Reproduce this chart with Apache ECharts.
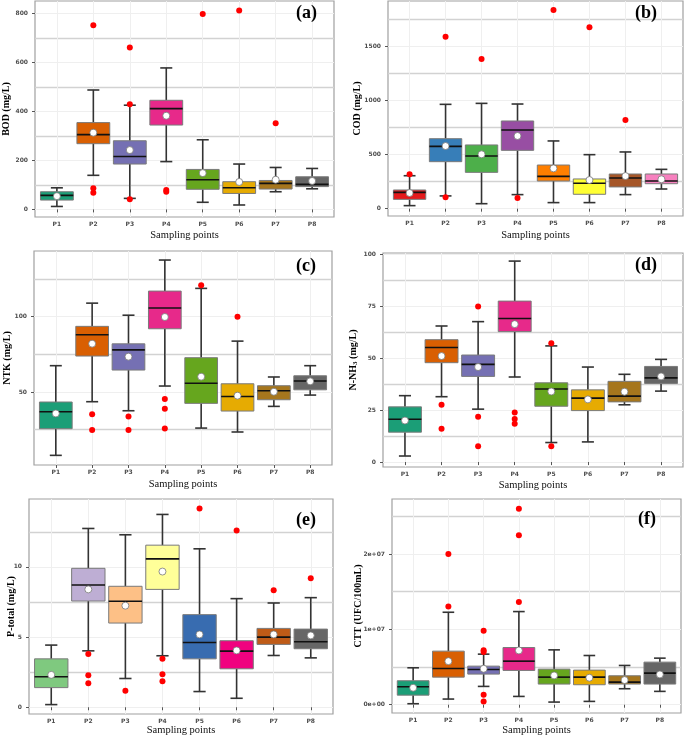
<!DOCTYPE html>
<html lang="en">
  <head>
    <meta charset="UTF-8" />
    <title>Sampling points boxplots</title>
    <script src="https://cdn.jsdelivr.net/npm/echarts@6/dist/echarts.min.js"></script>
    <style>
      html, body { margin: 0; padding: 0; background: #fff; }
      #main { width: 685px; height: 737px; }
    </style>
  </head>
  <body>
    <div id="main"></div>
    <script>
      var categories = ["P1", "P2", "P3", "P4", "P5", "P6", "P7", "P8"];
      var positions = [1, 2, 3, 4, 5, 6, 7, 8];

      // each box: [lower whisker, Q1, median, Q3, upper whisker]
      // outliers: [sampling point number, value]

      // (a) BOD
      var bodBoxes = [
        [12, 38, 57, 72, 88], [139, 268, 305, 354, 487], [45, 185, 216, 280, 425], [195, 344, 411, 445, 577],
        [29, 82, 121, 163, 284], [18, 65, 88, 113, 185], [72, 83, 106, 118, 171], [84, 93, 102, 133, 167]
      ];
      var bodMeans = [54, 313, 242, 382, 148, 112, 121, 116];
      var bodOutliers = [[2, 751], [2, 86], [2, 68], [3, 660], [3, 429], [3, 41], [4, 79], [4, 72], [5, 797], [6, 811], [7, 351]];
      var bodTicks = [0, 200, 400, 600, 800];
      var bodMinor = [100, 300, 500, 700];

      // (b) COD
      var codBoxes = [
        [28, 86, 151, 173, 305], [118, 435, 577, 648, 966], [46, 336, 488, 590, 975], [130, 540, 728, 812, 969],
        [56, 256, 299, 404, 627], [56, 133, 235, 275, 500], [130, 201, 284, 321, 525], [182, 231, 256, 321, 364]
      ];
      var codMeans = [145, 580, 503, 673, 373, 265, 302, 272];
      var codOutliers = [[1, 318], [2, 1593], [2, 105], [3, 1386], [4, 99], [5, 1840], [6, 1679], [7, 821]];
      var codTicks = [0, 500, 1000, 1500];
      var codMinor = [250, 750, 1250, 1750];

      // (c) NTK
      var ntkBoxes = [
        [8, 25.7, 36.9, 43.4, 67.5], [43.6, 73.9, 88, 93.6, 109], [37.6, 64.6, 78, 82, 101], [54, 92, 105.8, 117, 137.6],
        [26.1, 42.5, 55.8, 72.8, 118.8], [23.5, 37.4, 47.1, 55.5, 83.8], [40.5, 44.9, 50.9, 54.2, 60], [48, 51.5, 57.3, 60.8, 67.5]
      ];
      var ntkMeans = [35.8, 82.1, 73.5, 99.8, 60.2, 47.6, 50.2, 57.1];
      var ntkOutliers = [[2, 35.2], [2, 24.8], [3, 33.8], [3, 24.8], [4, 45.4], [4, 38.9], [4, 25.9], [5, 120.8], [6, 100]];
      var ntkTicks = [50, 100];
      var ntkMinor = [25, 75, 125];

      // (d) N-NH3
      var nh3Boxes = [
        [2.9, 14.4, 20.6, 26.6, 32], [31.5, 47.9, 55.2, 59, 65.6], [25.5, 41.3, 47.1, 51.6, 67.7], [41, 62.9, 69.2, 77.6, 96.9],
        [9.4, 26.9, 35.2, 38.2, 56], [9.7, 24.8, 30.8, 34.8, 45.8], [27.6, 29, 31.8, 38.9, 42.3], [34.2, 37.9, 40.6, 46.1, 49.5]
      ];
      var nh3Means = [20, 51.1, 45.8, 66.5, 34, 30.2, 33.9, 41.3];
      var nh3Outliers = [[2, 27.6], [2, 16], [3, 75], [3, 21.8], [3, 7.6], [4, 23.9], [4, 20.8], [4, 18.5], [5, 57.3], [5, 7.6]];
      var nh3Ticks = [0, 25, 50, 75, 100];
      var nh3Minor = [12.5, 37.5, 62.5, 87.5];

      // (e) P-total
      var ptBoxes = [
        [0.19, 1.4, 2.17, 3.45, 4.43], [4.02, 7.57, 8.71, 9.9, 12.74], [2.05, 6, 7.55, 8.62, 12.29], [3.67, 8.4, 10.57, 11.55, 13.74],
        [1.12, 3.45, 4.62, 6.6, 11.29], [0.64, 2.74, 4, 4.74, 7.74], [3.69, 4.48, 5, 5.62, 7.43], [3.52, 4.17, 4.67, 5.57, 7.81]
      ];
      var ptMeans = [2.31, 8.4, 7.24, 9.67, 5.19, 4.05, 5.19, 5.12];
      var ptOutliers = [[2, 3.79], [2, 2.29], [2, 1.71], [3, 1.17], [4, 3.45], [4, 2.36], [4, 1.86], [5, 14.17], [6, 12.6], [7, 8.33], [8, 9.19]];
      var ptTicks = [0, 5, 10];
      var ptMinor = [2.5, 7.5, 12.5];

      // (f) CTT
      var cttBoxes = [
        [1.3e5, 1.27e6, 2.38e6, 3.18e6, 4.9e6], [7.5e5, 3.66e6, 4.81e6, 7.11e6, 1.227e7],
        [2.43e6, 4.06e6, 4.68e6, 5.12e6, 6.71e6], [1.1e6, 4.55e6, 5.78e6, 7.59e6, 1.236e7],
        [3.5e5, 2.74e6, 3.66e6, 4.72e6, 7.28e6], [4.4e5, 2.65e6, 3.66e6, 4.59e6, 6.53e6],
        [2.12e6, 2.74e6, 3.0e6, 3.84e6, 5.21e6], [1.77e6, 2.74e6, 4.19e6, 5.65e6, 6.18e6]
      ];
      var cttMeans = [2.25e6, 5.78e6, 4.77e6, 7.2e6, 3.89e6, 3.58e6, 3.27e6, 4.02e6];
      var cttOutliers = [[2, 2.0e7], [2, 1.302e7], [3, 9.8e6], [3, 7.24e6], [3, 6.98e6], [3, 1.32e6], [3, 4.4e5], [4, 2.6e7], [4, 2.25e7], [4, 1.364e7]];
      var cttTicks = [0, 1e7, 2e7];
      var cttLabels = ["0e+00", "1e+07", "2e+07"];
      var cttMinor = [5e6, 1.5e7, 2.5e7];

      // palettes (ColorBrewer)
      var dark2 = ["#1b9e77", "#d95f02", "#7570b3", "#e7298a", "#66a61e", "#e6ab02", "#a6761d", "#666666"];
      var set1 = ["#e41a1c", "#377eb8", "#4daf4a", "#984ea3", "#ff7f00", "#ffff33", "#a65628", "#f781bf"];
      var accent = ["#7fc97f", "#beaed4", "#fdc086", "#ffff99", "#386cb0", "#f0027f", "#bf5b17", "#666666"];

      function plainNum(v) { return String(v); }

      var panels = [
        { tag: "(a)", name: "BOD (mg/L)", boxes: bodBoxes, means: bodMeans, outliers: bodOutliers, ticks: bodTicks, minor: bodMinor,
          colors: dark2, left: 34, top: 1, width: 300, height: 216, min: -31, max: 850, nameGap: 24, xGap: 13, tagLeft: 296, tagTop: 4 },
        { tag: "(b)", name: "COD (mg/L)", boxes: codBoxes, means: codMeans, outliers: codOutliers, ticks: codTicks, minor: codMinor,
          colors: set1, left: 388, top: 1, width: 295, height: 215, min: -68, max: 1923, nameGap: 26, xGap: 14, tagLeft: 635, tagTop: 4 },
        { tag: "(c)", name: "NTK (mg/L)", boxes: ntkBoxes, means: ntkMeans, outliers: ntkOutliers, ticks: ntkTicks, minor: ntkMinor,
          colors: dark2, left: 34, top: 251, width: 298, height: 214, min: 1.6, max: 143.6, nameGap: 22, xGap: 14, tagLeft: 296, tagTop: 257 },
        { tag: "(d)", name: "N-NH{sub|3} (mg/L)", boxes: nh3Boxes, means: nh3Means, outliers: nh3Outliers, ticks: nh3Ticks, minor: nh3Minor,
          colors: dark2, left: 383, top: 253, width: 300, height: 214, min: -2.4, max: 100.8, nameGap: 24, xGap: 13, tagLeft: 635, tagTop: 256 },
        { tag: "(e)", name: "P-total (mg/L)", boxes: ptBoxes, means: ptMeans, outliers: ptOutliers, ticks: ptTicks, minor: ptMinor,
          colors: accent, left: 29, top: 499, width: 304, height: 215, min: -0.48, max: 14.84, nameGap: 13, xGap: 11, tagLeft: 296, tagTop: 511 },
        { tag: "(f)", name: "CTT (UFC/100mL)", boxes: cttBoxes, means: cttMeans, outliers: cttOutliers, ticks: cttTicks, minor: cttMinor,
          colors: dark2, left: 392, top: 499, width: 289, height: 215, min: -1.1e6, max: 2.73e7, nameGap: 29, xGap: 12, tagLeft: 638, tagTop: 510,
          fmt: function (v) { return cttLabels[cttTicks.indexOf(v)]; } }
      ];

      var chart = echarts.init(document.getElementById("main"));

      var tickLabelStyle = { fontSize: 6, fontWeight: "bold", color: "#4d4d4d", fontFamily: "DejaVu Sans" };

      function boxRenderer(colors) {
        return function (params, api) {
          var x = api.value(0);
          var lo = api.coord([x, api.value(1)]);
          var q1 = api.coord([x, api.value(2)]);
          var md = api.coord([x, api.value(3)]);
          var q3 = api.coord([x, api.value(4)]);
          var hi = api.coord([x, api.value(5)]);
          var half = api.size([0.9, 0])[0] / 2;
          var cap = api.size([0.33, 0])[0] / 2;
          var wStyle = { stroke: "#333", lineWidth: 1.6 };
          return {
            type: "group",
            children: [
              { type: "line", shape: { x1: hi[0], y1: hi[1], x2: q3[0], y2: q3[1] }, style: wStyle },
              { type: "line", shape: { x1: lo[0], y1: lo[1], x2: q1[0], y2: q1[1] }, style: wStyle },
              { type: "line", shape: { x1: hi[0] - cap, y1: hi[1], x2: hi[0] + cap, y2: hi[1] }, style: wStyle },
              { type: "line", shape: { x1: lo[0] - cap, y1: lo[1], x2: lo[0] + cap, y2: lo[1] }, style: wStyle },
              {
                type: "rect",
                shape: { x: q3[0] - half, y: q3[1], width: half * 2, height: q1[1] - q3[1] },
                style: { fill: colors[params.dataIndex], stroke: "#7a7a7a", lineWidth: 1 }
              },
              { type: "line", shape: { x1: md[0] - half, y1: md[1], x2: md[0] + half, y2: md[1] }, style: { stroke: "#111", lineWidth: 1.6 } }
            ]
          };
        };
      }

      var option = {
        backgroundColor: "#fff",
        animation: false,
        title: [],
        grid: [],
        xAxis: [],
        yAxis: [],
        series: []
      };

      panels.forEach(function (p, i) {
        option.title.push({
          text: p.tag, left: p.tagLeft, top: p.tagTop, padding: 0,
          textStyle: { fontFamily: "Liberation Serif", fontWeight: "bold", fontSize: 18, color: "#000" }
        });
        option.grid.push({
          left: p.left, top: p.top, width: p.width, height: p.height,
          show: true, backgroundColor: "#fff", borderColor: "#a0a0a0", borderWidth: 1.2
        });
        option.xAxis.push({
          gridIndex: i, type: "value", min: 0.4, max: 8.6,
          name: "Sampling points", nameLocation: "middle", nameGap: p.xGap, nameMoveOverlap: false,
          nameTextStyle: { fontFamily: "Liberation Serif", fontSize: 10.5, color: "#111" },
          axisLine: { show: false },
          axisTick: { show: true, length: 3, customValues: positions, lineStyle: { color: "#555" } },
          axisLabel: Object.assign({ customValues: positions, margin: 4, formatter: function (v) { return categories[v - 1]; } }, tickLabelStyle),
          splitLine: { show: true, lineStyle: { color: "#efefef", width: 1 } }
        });
        option.yAxis.push({
          gridIndex: i, type: "value", min: p.min, max: p.max,
          name: p.name, nameLocation: "middle", nameGap: p.nameGap, nameMoveOverlap: false,
          nameTextStyle: {
            fontFamily: "Liberation Serif", fontWeight: "bold", fontSize: 10, color: "#000",
            rich: { sub: { fontFamily: "Liberation Serif", fontWeight: "bold", fontSize: 7, verticalAlign: "bottom", padding: [4, 0, 0, 0] } }
          },
          axisLine: { show: false },
          axisTick: { show: true, length: 3, customValues: p.ticks, lineStyle: { color: "#555" } },
          axisLabel: Object.assign({ customValues: p.ticks, margin: 7, formatter: p.fmt || plainNum }, tickLabelStyle),
          splitLine: { show: true, lineStyle: { color: "#efefef", width: 1 } }
        });
        // second y axis only carries the stronger in-between grid lines
        option.yAxis.push({
          gridIndex: i, type: "value", min: p.min, max: p.max,
          axisLine: { show: false },
          axisTick: { show: false, customValues: p.minor },
          axisLabel: { show: false, customValues: p.minor },
          splitLine: { show: true, lineStyle: { color: "#d2d2d2", width: 1.4 } }
        });

        var boxData = p.boxes.map(function (b, k) { return [positions[k]].concat(b); });
        var meanData = p.means.map(function (m, k) { return [positions[k], m]; });

        option.series.push({
          type: "custom", xAxisIndex: i, yAxisIndex: i * 2, z: 3,
          renderItem: boxRenderer(p.colors),
          encode: { x: 0, y: [1, 2, 3, 4, 5] },
          data: boxData
        });
        option.series.push({
          type: "scatter", xAxisIndex: i, yAxisIndex: i * 2, z: 4,
          symbol: "circle", symbolSize: 6,
          itemStyle: { color: "#ff0000", opacity: 1 },
          data: p.outliers
        });
        option.series.push({
          type: "scatter", xAxisIndex: i, yAxisIndex: i * 2, z: 5,
          symbol: "circle", symbolSize: 7,
          itemStyle: { color: "#fff", borderColor: "#777", borderWidth: 0.8, opacity: 1 },
          data: meanData
        });
      });

      chart.setOption(option);
    </script>
  </body>
</html>
